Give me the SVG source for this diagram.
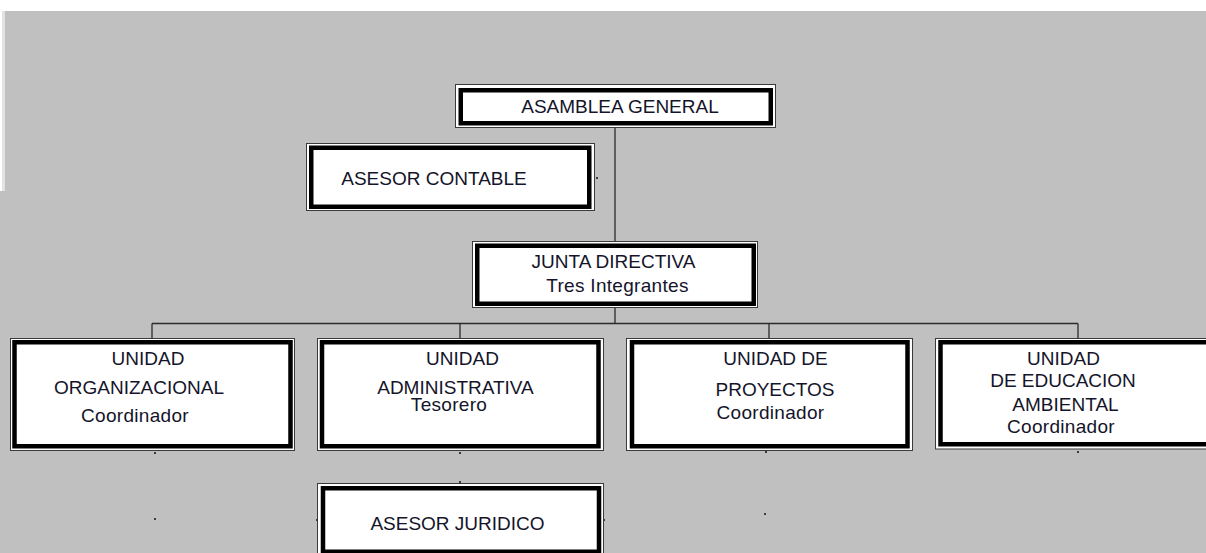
<svg xmlns="http://www.w3.org/2000/svg" width="1206" height="553" viewBox="0 0 1206 553">
<style>
.thin{fill:#ffffff;stroke:#3a3a3a;stroke-width:1}
.thick{fill:none;stroke:#000000;stroke-width:4.5}
.lbl{font-family:"Liberation Sans",Arial,sans-serif;font-size:19px;fill:#14142a;text-anchor:middle}
.sub{letter-spacing:0.3px}
.conn{stroke:#2a2a2a;stroke-width:1.3;fill:none}
.dot{fill:#3a3a3a}
</style>
<rect x="0" y="0" width="1206" height="553" fill="#ffffff"/>
<rect x="0" y="11" width="1206" height="542" fill="#c0c0c0"/>
<rect x="2" y="11" width="3" height="180" fill="#e2e2e2"/>
<rect x="0" y="11" width="2" height="180" fill="#ffffff"/>

<g id="connectors">
<line class="conn" x1="615" y1="128" x2="615" y2="241"/>
<line class="conn" x1="615" y1="307" x2="615" y2="323.5"/>
<line class="conn" x1="152" y1="323.5" x2="1078" y2="323.5"/>
<line class="conn" x1="152" y1="323.5" x2="152" y2="338"/>
<line class="conn" x1="460" y1="323.5" x2="460" y2="338"/>
<line class="conn" x1="769" y1="323.5" x2="769" y2="338"/>
<line class="conn" x1="1078" y1="323.5" x2="1078" y2="338"/>
<rect class="dot" x="596" y="177" width="2" height="2"/>
<rect class="dot" x="154" y="452" width="2" height="2"/>
<rect class="dot" x="154" y="518" width="2" height="2"/>
<rect class="dot" x="459" y="452" width="2" height="2"/>
<rect class="dot" x="459" y="481" width="2" height="2"/>
<rect class="dot" x="316" y="519" width="2" height="2"/>
<rect class="dot" x="603" y="519" width="2" height="2"/>
<rect class="dot" x="765" y="451" width="2" height="2"/>
<rect class="dot" x="764" y="513" width="2" height="2"/>
<rect class="dot" x="1077" y="451" width="2" height="2"/>
</g>

<g id="asamblea-general">
<rect class="thin" x="455.5" y="84.5" width="320" height="43"/>
<rect class="thick" x="460.75" y="90.25" width="310" height="33"/>
<text class="lbl" x="620" y="112.5">ASAMBLEA GENERAL</text>
</g>

<g id="asesor-contable">
<rect class="thin" x="306.5" y="143.5" width="288" height="67"/>
<rect class="thick" x="311.25" y="147.75" width="278" height="59"/>
<text class="lbl" x="434" y="185">ASESOR CONTABLE</text>
</g>

<g id="junta-directiva">
<rect class="thin" x="472.5" y="241.5" width="285" height="66"/>
<rect class="thick" x="477.25" y="245.75" width="276.5" height="58"/>
<text class="lbl" x="613.5" y="267.5">JUNTA DIRECTIVA</text>
<text class="lbl sub" x="617.5" y="291.5">Tres Integrantes</text>
</g>

<g id="unidad-organizacional">
<rect class="thin" x="10.5" y="338.5" width="284" height="112"/>
<rect class="thick" x="14.5" y="342.25" width="276" height="104"/>
<text class="lbl" x="148" y="365">UNIDAD</text>
<text class="lbl" x="139" y="394">ORGANIZACIONAL</text>
<text class="lbl sub" x="135" y="421.5">Coordinador</text>
</g>

<g id="unidad-administrativa">
<rect class="thin" x="317.5" y="338.5" width="286" height="112"/>
<rect class="thick" x="322" y="342.25" width="276.5" height="104"/>
<text class="lbl" x="462.5" y="365">UNIDAD</text>
<text class="lbl" x="455.5" y="393.5">ADMINISTRATIVA</text>
<text class="lbl sub" x="449" y="411">Tesorero</text>
</g>

<g id="unidad-de-proyectos">
<rect class="thin" x="626.5" y="338.5" width="286" height="112"/>
<rect class="thick" x="632" y="342.25" width="275.5" height="104"/>
<text class="lbl" x="775.5" y="365">UNIDAD DE</text>
<text class="lbl" x="775" y="395.5">PROYECTOS</text>
<text class="lbl sub" x="770.5" y="419">Coordinador</text>
</g>

<g id="unidad-educacion-ambiental">
<rect class="thin" x="935.5" y="338.5" width="300" height="110.5"/>
<rect class="thick" x="940.5" y="342.25" width="290" height="102"/>
<text class="lbl" x="1063.5" y="365">UNIDAD</text>
<text class="lbl" x="1063" y="387">DE EDUCACION</text>
<text class="lbl" x="1065.5" y="411">AMBIENTAL</text>
<text class="lbl sub" x="1061" y="433">Coordinador</text>
</g>

<g id="asesor-juridico">
<rect class="thin" x="317.5" y="483.5" width="286" height="80"/>
<rect class="thick" x="323" y="488.25" width="276" height="63.5"/>
<text class="lbl" x="457.5" y="530">ASESOR JURIDICO</text>
</g>
</svg>
